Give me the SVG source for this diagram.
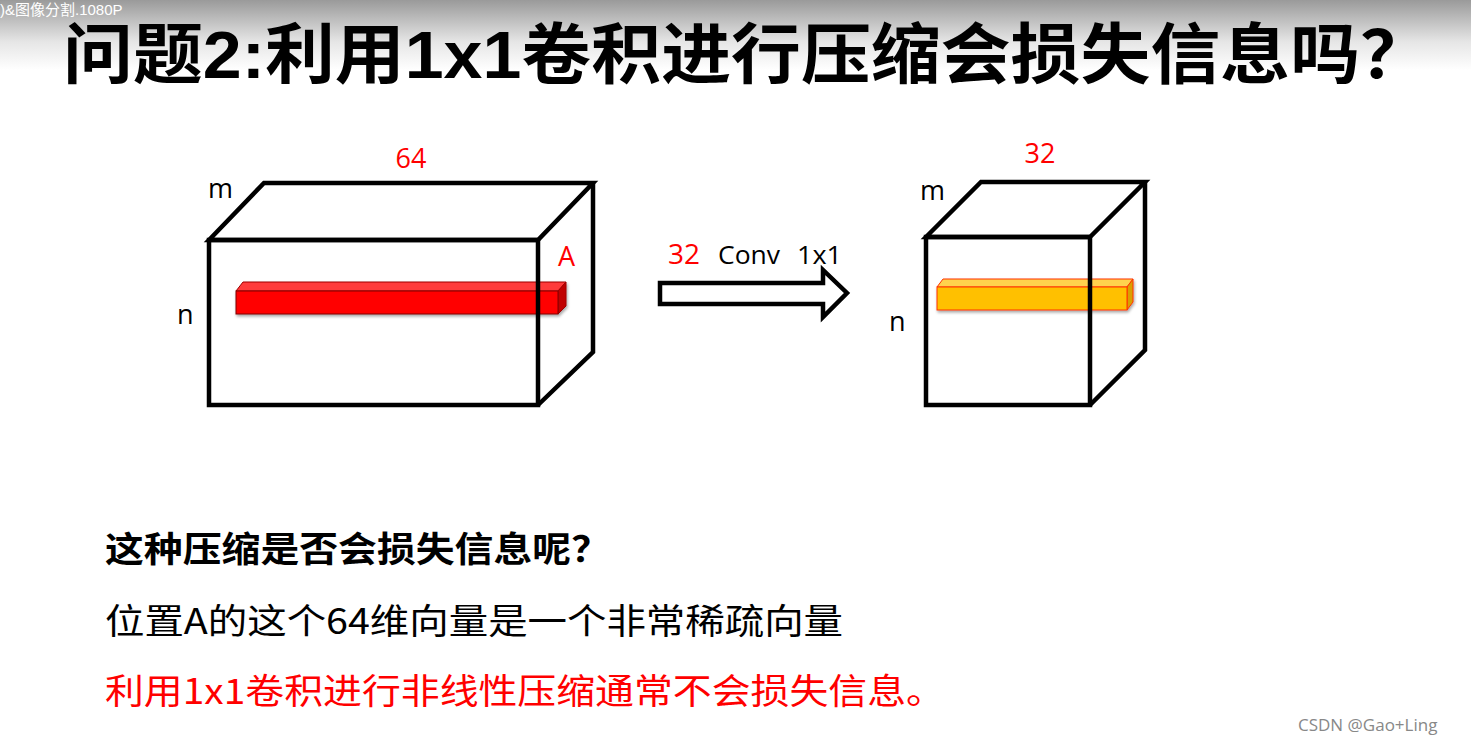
<svg xmlns="http://www.w3.org/2000/svg" width="1471" height="746" viewBox="0 0 1471 746">
<defs>
<linearGradient id="hdr" x1="0" y1="0" x2="0" y2="1">
<stop offset="0" stop-color="#9a9a9a"/>
<stop offset="0.6" stop-color="#e6e6e6"/>
<stop offset="1" stop-color="#ffffff"/>
</linearGradient>
<filter id="sh" x="-5%" y="-30%" width="110%" height="180%">
<feGaussianBlur in="SourceAlpha" stdDeviation="1.5"/>
<feOffset dx="1" dy="2"/>
<feComponentTransfer><feFuncA type="linear" slope="0.35"/></feComponentTransfer>
<feMerge><feMergeNode/><feMergeNode in="SourceGraphic"/></feMerge>
</filter>
</defs>
<style>
.cj{font-family:"Noto Sans CJK SC","Liberation Sans",sans-serif}
.lc{font-family:"Liberation Sans","Noto Sans CJK SC",sans-serif}
.lat{font-family:"Open Sans","Noto Sans","Liberation Sans",sans-serif}
.box{fill:none;stroke:#000;stroke-width:4.5;stroke-linejoin:miter}
.red{fill:#ff0000}
.blk{fill:#000}
</style>
<rect x="0" y="0" width="1471" height="746" fill="#ffffff"/>
<rect x="0" y="0" width="1471" height="70" fill="url(#hdr)"/>
<text x="0" y="15" class="lc" font-size="15" fill="#ffffff">)&amp;图像分割.1080P</text>

<g id="title">
<text x="63" y="78" class="lc" font-size="66" font-weight="bold" fill="#000" textLength="1367" lengthAdjust="spacingAndGlyphs">问题2:利用1x1卷积进行压缩会损失信息吗？</text>
</g>

<g id="cube64">
<g filter="url(#sh)">
<polygon points="236,291 243,282 566,282 558,291" fill="#ff3a3a" stroke="#a00000" stroke-width="1"/>
<polygon points="558,291 566,282 566,306 558,314" fill="#c00000" stroke="#a00000" stroke-width="1"/>
<rect x="236" y="291" width="322" height="23" fill="#ff0000" stroke="#800000" stroke-width="1"/>
</g>
<polygon class="box" points="209,240 264,183 593,183 538,240"/>
<polyline class="box" points="593,183 593,352 538,405"/>
<rect class="box" x="209" y="240" width="329" height="165"/>
<text x="411" y="168" class="lat red" font-size="27" text-anchor="middle">64</text>
<text x="208" y="198" class="lat blk" font-size="27">m</text>
<text x="177" y="324" class="lat blk" font-size="27">n</text>
<text x="558" y="266" class="lat red" font-size="27">A</text>
</g>

<g id="cube32">
<g filter="url(#sh)">
<polygon points="937,287 943,279 1133,279 1127,287" fill="#ffd24d" stroke="#ff3300" stroke-width="1"/>
<polygon points="1127,287 1133,279 1133,302 1127,310" fill="#d9a000" stroke="#ff3300" stroke-width="1"/>
<rect x="937" y="287" width="190" height="23" fill="#ffc000" stroke="#ff3300" stroke-width="1"/>
</g>
<polygon class="box" points="926,237 981,182 1145,182 1090,237"/>
<polyline class="box" points="1145,182 1145,350 1090,405"/>
<rect class="box" x="926" y="237" width="164" height="168"/>
<text x="1040" y="163" class="lat red" font-size="27" text-anchor="middle">32</text>
<text x="920" y="200" class="lat blk" font-size="27">m</text>
<text x="889" y="331" class="lat blk" font-size="27">n</text>
</g>

<g id="connectors">
<polygon points="660,283 823,283 823,270 847,293 823,317 823,304 660,304" fill="#ffffff" stroke="#000" stroke-width="4.5" stroke-linejoin="miter"/>
<text x="668" y="264" class="lat red" font-size="27" textLength="32" lengthAdjust="spacingAndGlyphs">32</text>
<text x="718" y="264" class="lat blk" font-size="26" textLength="62" lengthAdjust="spacingAndGlyphs">Conv</text>
<text x="797" y="264" class="lat blk" font-size="26" textLength="45" lengthAdjust="spacingAndGlyphs">1x1</text>
</g>

<g id="notes">
<text x="105" y="562" class="cj" font-size="35" font-weight="bold" fill="#000" textLength="505" lengthAdjust="spacingAndGlyphs">这种压缩是否会损失信息呢？</text>
<text x="105" y="634" class="cj" font-size="35" fill="#000" textLength="738" lengthAdjust="spacingAndGlyphs">位置A的这个64维向量是一个非常稀疏向量</text>
<text x="105" y="704" class="cj" font-size="35" fill="#ff0000" textLength="840" lengthAdjust="spacingAndGlyphs">利用1x1卷积进行非线性压缩通常不会损失信息。</text>
</g>

<text x="1298" y="731" class="lat" font-size="17" fill="#888">CSDN @Gao+Ling</text>
</svg>
